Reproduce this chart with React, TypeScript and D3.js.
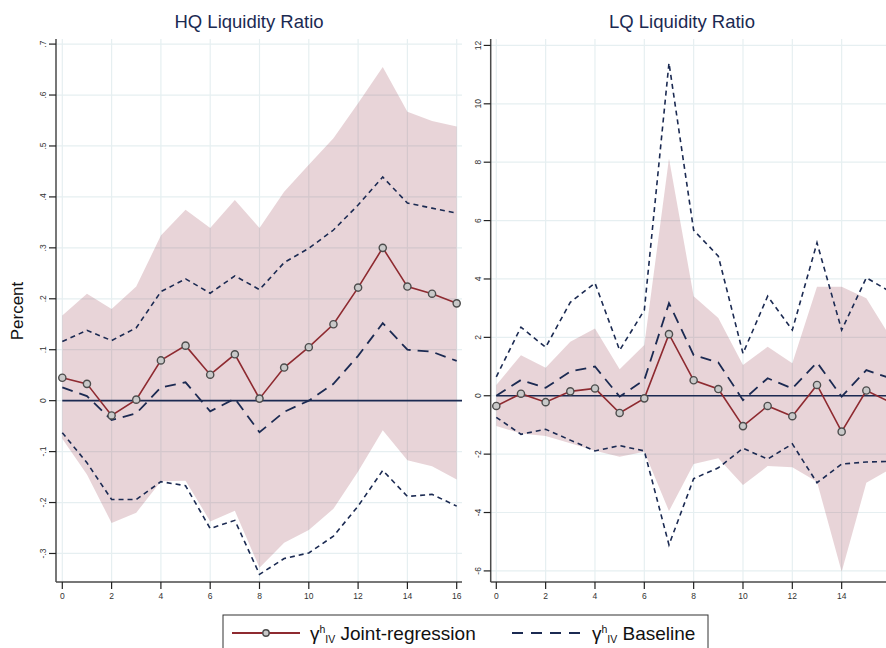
import React from 'react';
import * as d3 from 'd3';

// horizons (quarters)
const horizons = [0, 1, 2, 3, 4, 5, 6, 7, 8, 9, 10, 11, 12, 13, 14, 15, 16];
const xTicks = [0, 2, 4, 6, 8, 10, 12, 14, 16];

// HQ liquidity ratio
const hqJoint = [0.045, 0.033, -0.029, 0.002, 0.079, 0.108, 0.051, 0.091, 0.004, 0.065, 0.105, 0.150, 0.222, 0.300, 0.224, 0.210, 0.191];
const hqBandHi = [0.167, 0.210, 0.180, 0.224, 0.324, 0.375, 0.339, 0.394, 0.339, 0.410, 0.463, 0.515, 0.584, 0.655, 0.567, 0.549, 0.538];
const hqBandLo = [-0.075, -0.145, -0.240, -0.220, -0.158, -0.157, -0.237, -0.216, -0.328, -0.279, -0.254, -0.212, -0.139, -0.058, -0.117, -0.129, -0.155];
const hqBase = [0.026, 0.009, -0.038, -0.025, 0.026, 0.036, -0.021, 0.004, -0.062, -0.022, 0.000, 0.033, 0.088, 0.152, 0.100, 0.096, 0.078];
const hqBaseHi = [0.116, 0.138, 0.118, 0.143, 0.214, 0.239, 0.211, 0.245, 0.218, 0.271, 0.299, 0.335, 0.384, 0.439, 0.388, 0.378, 0.368];
const hqBaseLo = [-0.063, -0.122, -0.194, -0.194, -0.159, -0.167, -0.251, -0.235, -0.341, -0.310, -0.299, -0.266, -0.207, -0.137, -0.188, -0.184, -0.207];
const hqYTicks = [-0.3, -0.2, -0.1, 0, 0.1, 0.2, 0.3, 0.4, 0.5, 0.6, 0.7];
const hqYLabels = ['-.3', '-.2', '-.1', '0', '.1', '.2', '.3', '.4', '.5', '.6', '.7'];

// LQ liquidity ratio
const lqJoint = [-0.35, 0.07, -0.22, 0.15, 0.25, -0.59, -0.09, 2.11, 0.53, 0.23, -1.04, -0.35, -0.70, 0.37, -1.23, 0.18, -0.23];
const lqBandHi = [0.37, 1.39, 0.96, 1.85, 2.30, 0.91, 1.74, 8.13, 3.41, 2.66, 1.05, 1.68, 1.11, 3.73, 3.73, 3.34, 1.98];
const lqBandLo = [-1.04, -1.29, -1.38, -1.63, -1.88, -2.09, -1.92, -3.95, -2.34, -2.14, -3.06, -2.41, -2.45, -2.95, -6.03, -2.98, -2.50];
const lqBase = [0.00, 0.54, 0.27, 0.83, 1.00, -0.03, 0.54, 3.17, 1.39, 1.14, -0.15, 0.60, 0.25, 1.14, -0.03, 0.88, 0.59];
const lqBaseHi = [0.65, 2.35, 1.66, 3.20, 3.86, 1.56, 2.93, 11.40, 5.67, 4.78, 1.45, 3.41, 2.25, 5.24, 2.25, 4.04, 3.55];
const lqBaseLo = [-0.74, -1.32, -1.15, -1.52, -1.89, -1.71, -1.89, -5.11, -2.84, -2.47, -1.80, -2.17, -1.65, -2.98, -2.34, -2.27, -2.25];
const lqYTicks = [-6, -4, -2, 0, 2, 4, 6, 8, 10, 12];
const lqYLabels = ['-6', '-4', '-2', '0', '2', '4', '6', '8', '10', '12'];

const FONT = '"Liberation Sans", Arial, Helvetica, sans-serif';
const RED = '#8e2a30';
const NAVY = '#1b2a52';
const GRID = '#e6eff1';
const AXIS = '#4a4a4a';

interface PanelProps {
  title: string;
  titleX: number;
  left: number;
  right: number;
  x0: number;
  x16: number;
  yDomain: [number, number];
  yTicks: number[];
  yLabels: string[];
  joint: number[];
  bandHi: number[];
  bandLo: number[];
  base: number[];
  baseHi: number[];
  baseLo: number[];
}

const TOP = 39, BOTTOM = 582;

const Panel: React.FC<PanelProps> = (p) => {
  const x = d3.scaleLinear().domain([0, 16]).range([p.x0, p.x16]);
  const y = d3.scaleLinear().domain(p.yDomain).range([BOTTOM, TOP]);
  const line = d3.line<number>().x((_, i) => x(horizons[i])).y(d => y(d));
  const area = d3.area<number>()
    .x((_, i) => x(horizons[i]))
    .y0((_, i) => y(p.bandLo[i]))
    .y1(d => y(d));
  // ticks past the panel edge are cropped away in the original
  const shownX = xTicks.filter(t => x(t) <= p.right);

  return (
    <g>
      <text x={p.titleX} y={28} textAnchor="middle" fontSize={18.5} fill={NAVY} fontFamily={FONT}>{p.title}</text>
      {/* grid */}
      {p.yTicks.map(t => (
        <line key={'h' + t} x1={p.left} x2={p.right} y1={y(t)} y2={y(t)} stroke={GRID} strokeWidth={1.2} />
      ))}
      {shownX.map(t => (
        <line key={'v' + t} x1={x(t)} x2={x(t)} y1={TOP} y2={BOTTOM} stroke={GRID} strokeWidth={1.2} />
      ))}
      {/* confidence band */}
      <path d={area(p.bandHi) || ''} fill="#8b2a3a" fillOpacity={0.2} stroke="none" />
      {/* zero line */}
      <line x1={x(0)} x2={p.right} y1={y(0)} y2={y(0)} stroke={NAVY} strokeWidth={1.6} />
      {/* baseline */}
      <path d={line(p.baseHi) || ''} fill="none" stroke={NAVY} strokeWidth={1.6} strokeDasharray="5,4" />
      <path d={line(p.baseLo) || ''} fill="none" stroke={NAVY} strokeWidth={1.6} strokeDasharray="5,4" />
      <path d={line(p.base) || ''} fill="none" stroke={NAVY} strokeWidth={1.8} strokeDasharray="11,7" />
      {/* joint regression */}
      <path d={line(p.joint) || ''} fill="none" stroke={RED} strokeWidth={1.6} />
      {p.joint.map((v, i) => (
        <circle key={i} cx={x(horizons[i])} cy={y(v)} r={3.6} fill="#c9c9c9" stroke="#4d4d4d" strokeWidth={1.4} />
      ))}
      {/* axes */}
      <line x1={p.left} x2={p.left} y1={TOP} y2={BOTTOM} stroke={AXIS} strokeWidth={1.5} />
      <line x1={p.left} x2={p.right} y1={BOTTOM} y2={BOTTOM} stroke={AXIS} strokeWidth={1.5} />
      {p.yTicks.map((t, i) => (
        <g key={'yt' + t}>
          <line x1={p.left - 7} x2={p.left} y1={y(t)} y2={y(t)} stroke="#222" strokeWidth={1.2} />
          <text transform={`translate(${p.left - 10},${y(t)}) rotate(-90)`} textAnchor="middle" fontSize={8.5} fill="#333" fontFamily={FONT}>{p.yLabels[i]}</text>
        </g>
      ))}
      {shownX.map(t => (
        <g key={'xt' + t}>
          <line x1={x(t)} x2={x(t)} y1={BOTTOM} y2={BOTTOM + 7} stroke="#222" strokeWidth={1.2} />
          <text x={x(t)} y={BOTTOM + 17} textAnchor="middle" fontSize={8.5} fill="#333" fontFamily={FONT}>{t}</text>
        </g>
      ))}
    </g>
  );
};

const Gamma: React.FC<{ x: number; y: number; label: string }> = ({ x, y, label }) => (
  <text x={x} y={y} fontSize={19} fill="#111" fontFamily={FONT}>
    γ<tspan fontSize={10.5} dy={-7}>h</tspan><tspan fontSize={10.5} dy={10}>IV</tspan><tspan dy={-3}>{' ' + label}</tspan>
  </text>
);

export default function App() {
  return (
    <div style={{ position: 'absolute', left: 0, top: 0 }}>
      <svg width={886} height={648} style={{ display: 'block', background: '#fff' }}>
        <Panel title="HQ Liquidity Ratio" titleX={249} left={56} right={462} x0={62.3} x16={456.7}
          yDomain={[-0.356, 0.71]} yTicks={hqYTicks} yLabels={hqYLabels}
          joint={hqJoint} bandHi={hqBandHi} bandLo={hqBandLo} base={hqBase} baseHi={hqBaseHi} baseLo={hqBaseLo} />
        <Panel title="LQ Liquidity Ratio" titleX={682} left={490.7} right={886} x0={496.3} x16={891}
          yDomain={[-6.38, 12.22]} yTicks={lqYTicks} yLabels={lqYLabels}
          joint={lqJoint} bandHi={lqBandHi} bandLo={lqBandLo} base={lqBase} baseHi={lqBaseHi} baseLo={lqBaseLo} />
        <text transform="translate(23,311) rotate(-90)" textAnchor="middle" fontSize={17} fill="#111" fontFamily={FONT}>Percent</text>
        {/* legend */}
        <rect x={223} y={615} width={485} height={45} fill="#fff" stroke="#333" strokeWidth={1} />
        <line x1={232} x2={300} y1={633} y2={633} stroke={RED} strokeWidth={2} />
        <circle cx={266} cy={633} r={3.2} fill="#c9c9c9" stroke="#4d4d4d" strokeWidth={1.4} />
        <Gamma x={310} y={640} label="Joint-regression" />
        <line x1={512} x2={580} y1={633} y2={633} stroke={NAVY} strokeWidth={2} strokeDasharray="11,8" />
        <Gamma x={592} y={640} label="Baseline" />
      </svg>
    </div>
  );
}
